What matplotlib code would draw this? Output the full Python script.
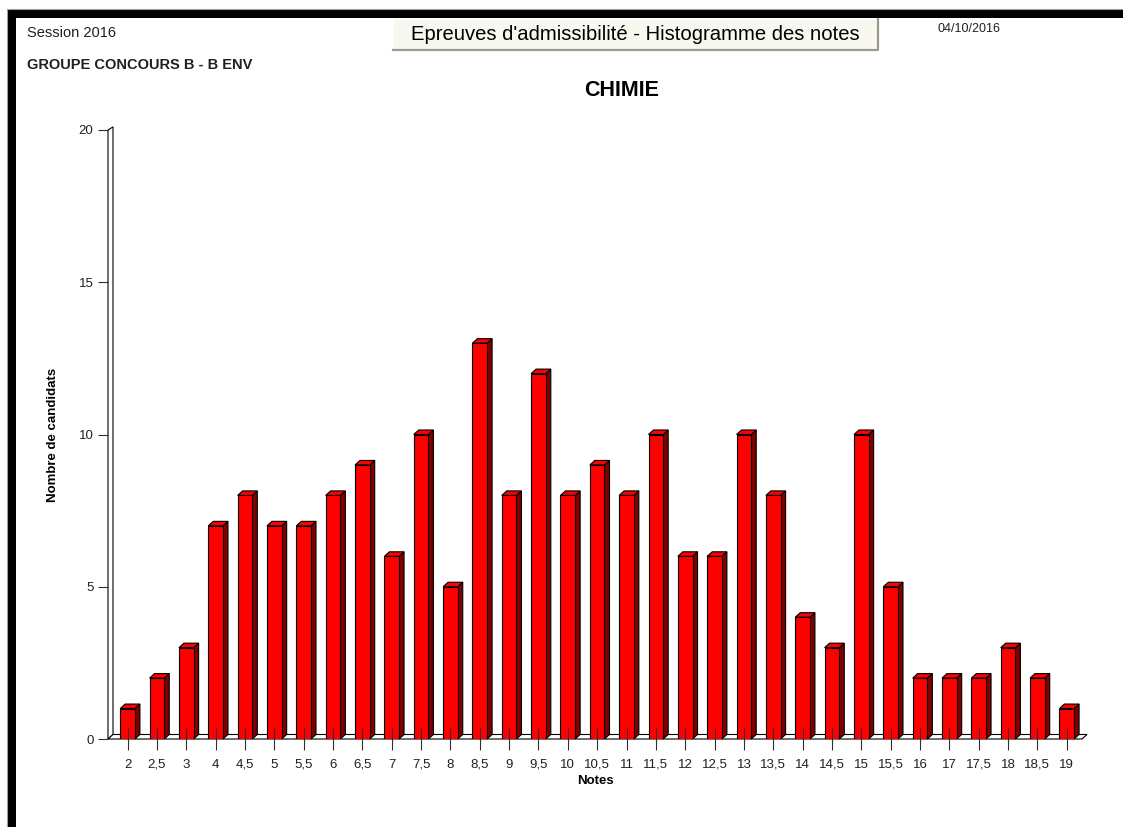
import matplotlib
matplotlib.use("Agg")
import matplotlib.pyplot as plt
from matplotlib.patches import Rectangle, Polygon
from matplotlib.lines import Line2D

plt.rcParams['font.family'] = ['Liberation Sans', 'DejaVu Sans']

# ---- data ----
notes = ["2", "2,5", "3", "4", "4,5", "5", "5,5", "6", "6,5", "7", "7,5", "8",
         "8,5", "9", "9,5", "10", "10,5", "11", "11,5", "12", "12,5", "13",
         "13,5", "14", "14,5", "15", "15,5", "16", "17", "17,5", "18", "18,5", "19"]
counts = [1, 2, 3, 7, 8, 7, 7, 8, 9, 6, 10, 5, 13, 8, 12, 8, 9, 8, 10, 6, 6,
          10, 8, 4, 3, 10, 5, 2, 2, 2, 3, 2, 1]
y_ticks = [0, 5, 10, 15, 20]

title = "CHIMIE"
header = "Epreuves d'admissibilité - Histogramme des notes"
session = "Session 2016"
groupe = "GROUPE CONCOURS B - B ENV"
date = "04/10/2016"

# ---- figure ----
W, H = 1123, 827
fig = plt.figure(figsize=(W / 100, H / 100), dpi=100)
fig.patch.set_facecolor("white")

# frame borders (black bands on top and left)
fig.add_artist(Rectangle((7.5 / W, 1 - 17.5 / H), 1, 8.5 / H, transform=fig.transFigure,
                         facecolor="black", edgecolor="none"))
fig.add_artist(Rectangle((7.5 / W, 0), 8 / W, 1 - 9 / H, transform=fig.transFigure,
                         facecolor="black", edgecolor="none"))
fig.add_artist(Line2D([7 / W, 1], [1 - 8.5 / H] * 2, transform=fig.transFigure,
                      color="#a0a0a0", lw=0.8))
fig.add_artist(Line2D([7 / W] * 2, [0, 1 - 8.5 / H], transform=fig.transFigure,
                      color="#a0a0a0", lw=0.8))

# header box
bx0, bx1, by0, by1 = 393 / W, 878 / W, 1 - 50 / H, 1 - 19 / H
fig.add_artist(Rectangle((bx0, by0), bx1 - bx0, by1 - by0, transform=fig.transFigure,
                         facecolor="#f8f7f0", edgecolor="none"))
fig.add_artist(Line2D([bx0, bx0, bx1], [by0, by1, by1], transform=fig.transFigure,
                      color="white", lw=1.2))
fig.add_artist(Line2D([bx0, bx1, bx1], [by0, by0, by1], transform=fig.transFigure,
                      color="#9a9a90", lw=1.6))
fig.text((bx0 + bx1) / 2, 1 - 34.5 / H, header, ha="center", va="center",
         fontsize=14.6, color="black")

fig.text(27 / W, 1 - 33 / H, session, ha="left", va="center", fontsize=10.5, color="#202020")
fig.text(27 / W, 1 - 65 / H, groupe, ha="left", va="center", fontsize=10.5,
         fontweight="bold", color="#202020")
fig.text(937 / W, 1 - 29 / H, date, ha="left", va="center", fontsize=9, color="#202020")
fig.text(622 / W, 1 - 90 / H, title, ha="center", va="center", fontsize=15.5,
         fontweight="bold", color="black")

# ---- axes ----
ax = fig.add_axes([108 / W, (H - 739) / H, 974 / W, 609 / H])
ax.set_xlim(-0.667, 32.52)
ax.set_ylim(0, 20)
for s in ax.spines.values():
    s.set_visible(False)
ax.patch.set_visible(False)
ax.set_axisbelow(False)

ppx = 974 / (32.52 + 0.667)   # pixels per x unit
ppy = 609 / 20.0              # pixels per y unit
DX = 5 / ppx
DY = 4.5 / ppy
BW = 0.5
xmin, xmax = ax.get_xlim()

# wall (y axis) and floor
ax.add_patch(Polygon([(xmin, 0), (xmin, 20), (xmin + DX, 20 + DY * 0.7), (xmin + DX, DY)],
                     closed=True, facecolor="white", edgecolor="black", lw=0.8,
                     clip_on=False, zorder=1))
ax.add_patch(Polygon([(xmin, 0), (xmax, 0), (xmax + DX, DY), (xmin + DX, DY)],
                     closed=True, facecolor="white", edgecolor="black", lw=0.8,
                     clip_on=False, zorder=1))

red = "#ff0000"
dark = "#800000"
for i, v in enumerate(counts):
    x0, x1 = i - BW / 2, i + BW / 2
    ax.add_patch(Polygon([(x1, 0), (x1 + DX, DY), (x1 + DX, v + DY), (x1, v)], closed=True,
                         facecolor=dark, edgecolor="black", lw=0.8, zorder=2, clip_on=False))
    ax.add_patch(Polygon([(x0, v), (x0 + DX, v + DY), (x1 + DX, v + DY), (x1, v)], closed=True,
                         facecolor=red, edgecolor="black", lw=0.8, zorder=2, clip_on=False))
ax.bar(range(len(counts)), counts, width=BW, color=red, edgecolor="black",
       linewidth=0.8, zorder=2)

ax.set_xticks(range(len(notes)))
ax.set_xticklabels(notes)
ax.tick_params(axis="x", direction="inout", length=16.5, width=0.8, color="#303030",
               labelsize=9.5, pad=12.3, labelcolor="#202020")
for lbl in ax.get_xticklabels():
    lbl.set_verticalalignment("baseline")
ax.set_yticks(y_ticks)
ax.tick_params(axis="y", direction="out", length=7.5, width=0.8, color="#303030",
               labelsize=9.5, pad=3, labelcolor="#202020")
ax.set_xlabel("Notes", fontsize=9.5, fontweight="bold", va="center")
ax.xaxis.set_label_coords(0.5, (739 - 781) / 609)
ax.set_ylabel("Nombre de candidats", fontsize=9.5, fontweight="bold", va="center")
ax.yaxis.set_label_coords((53 - 108) / 974, 0.5)

fig.savefig("out.png", dpi=100)
